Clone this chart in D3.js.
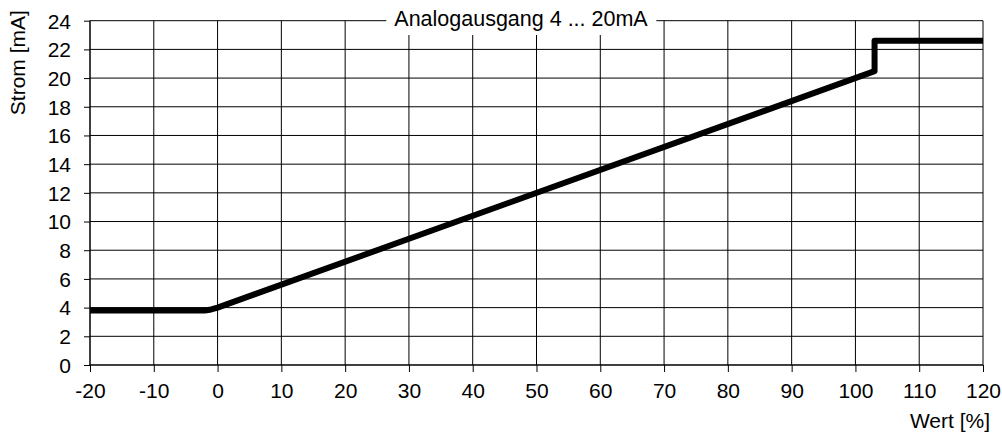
<!DOCTYPE html>
<html>
<head>
<meta charset="utf-8">
<script src="https://cdn.jsdelivr.net/npm/d3@7"></script>
<style>
  body { margin: 0; background: #fff; }
  text { font-family: "Liberation Sans", Arial, sans-serif; fill: #000; }
</style>
</head>
<body>
<div id="chart"></div>
<script>
// Kennlinie Analogausgang
const wertProzent = [-20, -2, -1, 0, 103, 103, 120];
const stromMA = [3.8, 3.8, 3.87, 4.0, 20.48, 22.6, 22.6];
const xTicks = d3.range(-20, 121, 10);
const yTicks = d3.range(0, 25, 2);
const title = 'Analogausgang 4 ... 20mA';

const width = 1002, height = 434;
const margin = { top: 20.7, right: 19, bottom: 69, left: 90 };
const w = width - margin.left - margin.right;
const h = height - margin.top - margin.bottom;

const svg = d3.select('#chart').append('svg')
    .attr('width', width)
    .attr('height', height);

const g = svg.append('g')
    .attr('transform', `translate(${margin.left}, ${margin.top})`);

const x = d3.scaleLinear().domain([-20, 120]).range([0, w]);
const y = d3.scaleLinear().domain([0, 24]).range([h, 0]);

// Gitter
g.append('g').selectAll('line')
    .data(xTicks)
    .enter().append('line')
    .attr('x1', d => x(d)).attr('x2', d => x(d))
    .attr('y1', 0).attr('y2', h)
    .attr('stroke', '#000').attr('stroke-width', 1);

g.append('g').selectAll('line')
    .data(yTicks)
    .enter().append('line')
    .attr('x1', 0).attr('x2', w)
    .attr('y1', d => y(d)).attr('y2', d => y(d))
    .attr('stroke', '#000').attr('stroke-width', 1);

// Achsen (Bindestrich statt Minuszeichen wie im Original)
const fmt = d => String(d);
const xAxis = g.append('g')
    .attr('transform', `translate(0, ${h})`)
    .call(d3.axisBottom(x).tickValues(xTicks).tickFormat(fmt).tickSize(7).tickSizeOuter(0).tickPadding(11));
const yAxis = g.append('g')
    .call(d3.axisLeft(y).tickValues(yTicks).tickFormat(fmt).tickSize(6).tickSizeOuter(0).tickPadding(13));

[xAxis, yAxis].forEach(a => {
    a.selectAll('text').style('font-size', '21px').attr('fill', '#000');
    a.selectAll('line, path').attr('stroke', '#000');
    a.select('.domain').remove();
});
yAxis.selectAll('text').attr('dy', '0.35em');

g.append('line').attr('x1', 0).attr('x2', 0).attr('y1', 0).attr('y2', h).attr('stroke', '#000');
g.append('line').attr('x1', 0).attr('x2', w).attr('y1', h).attr('y2', h).attr('stroke', '#000');

// Kurve
const pts = wertProzent.map((v, i) => [v, stromMA[i]]);
g.append('path')
    .datum(pts)
    .attr('fill', 'none')
    .attr('stroke', '#000')
    .attr('stroke-width', 6)
    .attr('stroke-linejoin', 'round')
    .attr('d', d3.line().x(d => x(d[0])).y(d => y(d[1])));

// Titel mit weissem Hintergrund
const titleBox = svg.append('rect').attr('fill', '#fff');
const titleText = svg.append('text')
    .attr('x', 521)
    .attr('y', 26)
    .attr('text-anchor', 'middle')
    .style('font-size', '21.5px')
    .text(title);
const bb = titleText.node().getBBox();
titleBox
    .attr('x', bb.x - 8).attr('y', 4)
    .attr('width', bb.width + 16).attr('height', 31);

// Achsentitel
svg.append('text')
    .attr('transform', `translate(25, ${margin.top + 42}) rotate(-90)`)
    .attr('text-anchor', 'middle')
    .style('font-size', '21px')
    .text('Strom [mA]');

svg.append('text')
    .attr('x', 990)
    .attr('y', 428)
    .attr('text-anchor', 'end')
    .style('font-size', '21px')
    .text('Wert [%]');
</script>
</body>
</html>
